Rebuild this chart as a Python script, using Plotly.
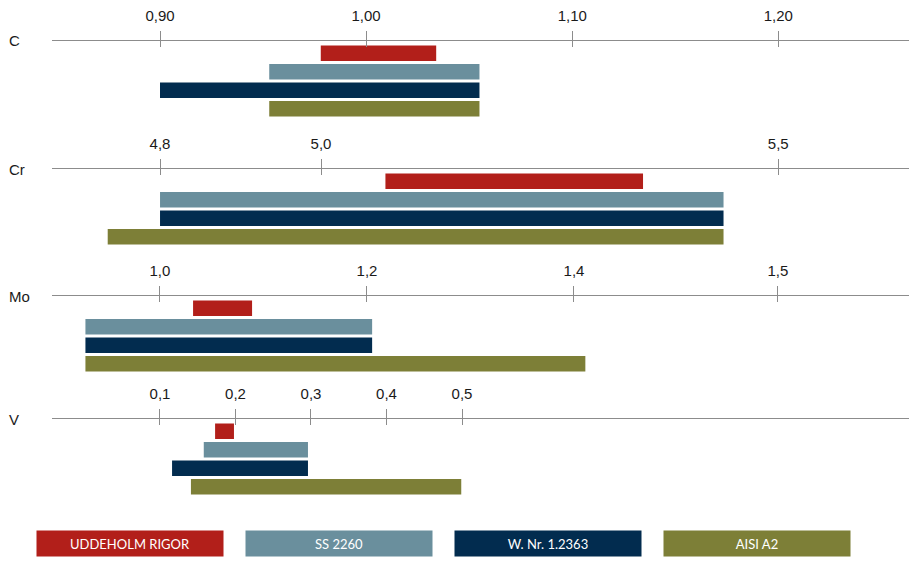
"""Alloy content ranges (C, Cr, Mo, V) of four cold-work tool steels,
one range-bar panel per element with its own scale on top.
"""

import plotly.graph_objects as go

W, H = 917, 573

grades = ["UDDEHOLM RIGOR", "SS 2260", "W. Nr. 1.2363", "AISI A2"]
colors = ["#B21F1A", "#6A8F9D", "#022C4F", "#7D7F37"]
elements = ["C", "Cr", "Mo", "V"]

# range per grade, in % (same order as grades)
c_low = [0.978, 0.953, 0.900, 0.953]
c_high = [1.034, 1.055, 1.055, 1.055]
cr_low = [5.08, 4.80, 4.80, 4.735]
cr_high = [5.40, 5.50, 5.50, 5.50]
mo_low = [1.032, 0.928, 0.928, 0.928]
mo_high = [1.089, 1.205, 1.205, 1.411]
v_low = [0.173, 0.158, 0.116, 0.141]
v_high = [0.198, 0.296, 0.296, 0.499]

# tick labels; tick positions follow the source chart (its "5,5" and "1,5"
# marks do not sit on the linear scale of their panels)
c_ticks = [0.90, 1.00, 1.10, 1.20]
c_labels = ["0,90", "1,00", "1,10", "1,20"]
cr_ticks = [4.8, 5.0, 5.568]
cr_labels = ["4,8", "5,0", "5,5"]
mo_ticks = [1.0, 1.2, 1.4, 1.597]
mo_labels = ["1,0", "1,2", "1,4", "1,5"]
v_ticks = [0.1, 0.2, 0.3, 0.4, 0.5]
v_labels = ["0,1", "0,2", "0,3", "0,4", "0,5"]

panels = [
    (c_low, c_high, c_ticks, c_labels, [0.8476, 1.2634]),
    (cr_low, cr_high, cr_ticks, cr_labels, [4.6658, 5.7304]),
    (mo_low, mo_high, mo_ticks, mo_labels, [0.8957, 1.7237]),
    (v_low, v_high, v_ticks, v_labels, [-0.043, 1.092]),
]

axis_px = [41, 169, 296, 419]  # pixel row of each panel's axis line
pitch = 18.5  # px per bar slot
y_top = -0.66  # bar-slot units above first bar centre
y_bot = 3.6

fig = go.Figure()
line_col = "#8c8c8c"
tick_font = dict(family="Liberation Sans", size=15, color="#1a1a1a")

for idx, (low, high, ticks, labels, x_range) in enumerate(panels, start=1):
    sfx = "" if idx == 1 else str(idx)
    for g_idx, grade in enumerate(grades):
        fig.add_trace(
            go.Bar(
                y=[g_idx],
                x=[high[g_idx] - low[g_idx]],
                base=[low[g_idx]],
                orientation="h",
                width=0.84,
                marker=dict(color=colors[g_idx], line_width=0),
                name=grade,
                showlegend=False,
                xaxis=f"x{sfx}",
                yaxis=f"y{sfx}",
            )
        )

    top = axis_px[idx - 1]
    bottom = top + (y_bot - y_top) * pitch
    fig.layout[f"yaxis{sfx}"] = dict(
        domain=[1 - bottom / H, 1 - top / H],
        range=[y_bot, y_top],
        showticklabels=False,
        showgrid=False,
        zeroline=False,
        showline=False,
        anchor=f"x{sfx}",
    )
    fig.layout[f"xaxis{sfx}"] = dict(
        domain=[52 / W, 909 / W],
        range=x_range,
        side="top",
        anchor=f"y{sfx}",
        showline=True,
        linecolor=line_col,
        linewidth=1,
        showgrid=False,
        zeroline=False,
        tickmode="array",
        tickvals=ticks,
        ticktext=labels,
        ticks="outside",
        ticklen=9,
        tickcolor=line_col,
        tickwidth=1,
        ticklabelstandoff=4,
        tickfont=tick_font,
        minor=dict(
            tickmode="array",
            tickvals=ticks,
            ticks="inside",
            ticklen=6,
            tickcolor=line_col,
            tickwidth=1,
            showgrid=False,
        ),
    )

    # element name at the left of the axis line
    fig.add_annotation(
        x=7 / W,
        y=1 - top / H,
        xref="paper",
        yref="paper",
        xanchor="left",
        yanchor="middle",
        text=elements[idx - 1],
        showarrow=False,
        font=dict(family="Liberation Sans", size=15, color="#1a1a1a"),
    )

# legend as coloured boxes along the bottom
box_w, box_h = 186, 25
for g_idx, grade in enumerate(grades):
    x_left = 37 + g_idx * 209
    fig.add_annotation(
        x=(x_left + box_w / 2) / W,
        y=1 - 543.5 / H,
        xref="paper",
        yref="paper",
        xanchor="center",
        yanchor="middle",
        text=grade,
        showarrow=False,
        width=box_w,
        height=box_h,
        bgcolor=colors[g_idx],
        borderpad=0,
        font=dict(family="Lato", size=13, color="white"),
    )

fig.update_layout(
    width=W,
    height=H,
    margin=dict(l=0, r=0, t=0, b=0),
    plot_bgcolor="white",
    paper_bgcolor="white",
    showlegend=False,
    barmode="overlay",
)

# drop the page's default body margin so the figure fills the window
fig.write_html(
    "out.html",
    config={"displayModeBar": False},
    post_script="document.body.style.margin = '0';",
)
